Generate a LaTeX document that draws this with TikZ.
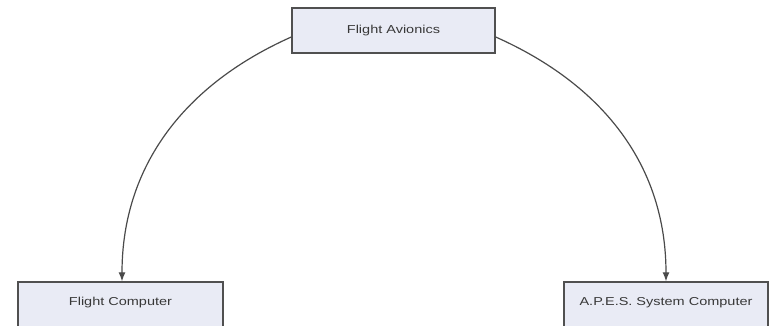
\documentclass[tikz,border=0pt]{standalone}
\usepackage{fontspec}
\setmainfont{Liberation Sans}[FakeStretch=1.26]
\usetikzlibrary{arrows.meta}
\definecolor{boxfill}{HTML}{E9EBF5}
\definecolor{boxline}{HTML}{505050}
\definecolor{txt}{HTML}{383838}
\definecolor{wire}{HTML}{4a4a4a}
\begin{document}
\begin{tikzpicture}[x=1pt,y=1pt,
  box/.style={draw=boxline,line width=1.4pt,fill=boxfill,text=txt,
    font=\fontsize{11.5}{13}\selectfont,inner sep=0pt,align=center},
  wirearrow/.style={draw=wire,line width=1.2pt,-{Latex[length=9pt,width=7pt]}}]
\useasboundingbox (0,0) rectangle (771,-326);
\clip (0,0) rectangle (771,-326);
\node[box,minimum width=203pt,minimum height=45pt] (fa) at (393.5,-30.5) {Flight Avionics};
\node[box,minimum width=205pt,minimum height=46pt] (fc) at (120.5,-305) {};
\node[text=txt,font=\fontsize{11.5}{13}\selectfont] (fct) at (120.5,-302.5) {Flight Computer};
\node[box,minimum width=204pt,minimum height=46pt] (ap) at (666,-305) {};
\node[text=txt,font=\fontsize{11.5}{13}\selectfont] (apt) at (666,-302.5) {A.P.E.S. System Computer};
\draw[wirearrow] ([yshift=-6.5pt]fa.west) to[out=204,in=90] ([xshift=1.5pt]fc.north);
\draw[wirearrow] ([yshift=-6.5pt]fa.east) to[out=-24,in=90] (ap.north);
\end{tikzpicture}
\end{document}
